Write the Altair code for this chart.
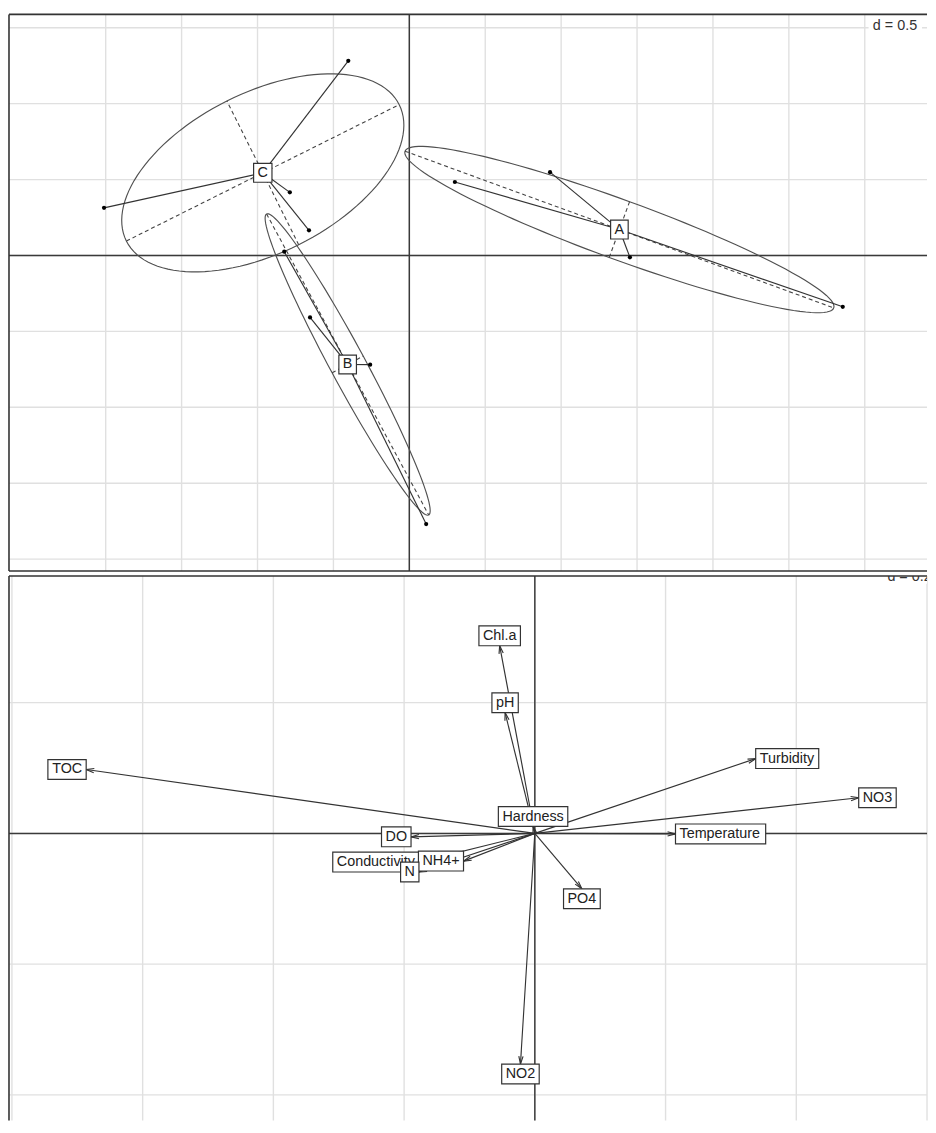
import math
import numpy as np
import pandas as pd
import altair as alt

# ---------------- top panel: site scores by class (d = 0.5) ----------------
SITE_GROUP = ["A", "A", "A", "A", "B", "B", "B", "B", "C", "C", "C", "C"]
SITE_AX1 = [0.927, 0.300, 1.453, 2.855, -0.824, -0.654, -0.258, 0.111, -0.402, -2.011, -0.787, -0.661]
SITE_AX2 = [0.549, 0.484, -0.012, -0.338, 0.025, -0.408, -0.719, -1.769, 1.282, 0.314, 0.416, 0.166]

TOP_GRID_X = [-2.0, -1.5, -1.0, -0.5, 0.0, 0.5, 1.0, 1.5, 2.0, 2.5, 3.0]
TOP_GRID_Y = [-2.0, -1.5, -1.0, -0.5, 0.0, 0.5, 1.0, 1.5]
TOP_X_DOMAIN = [-2.637, 3.410]
TOP_Y_DOMAIN = [-2.078, 1.588]
TOP_D_LABEL = "d = 0.5"

# ---------------- bottom panel: variable arrows (d = 0.2) ----------------
VARIABLES = ["Temperature", "pH", "Turbidity", "DO", "Conductivity", "Hardness", "TOC",
             "NO3", "NO2", "Chl.a", "PO4", "NH4+", "N"]
VAR_AX1 = [0.2152, -0.0455, 0.3379, -0.1894, -0.1773, -0.0027, -0.6864,
           0.4955, -0.0220, -0.0538, 0.0720, -0.1091, -0.1773]
VAR_AX2 = [-0.0008, 0.1848, 0.1144, -0.0053, -0.0439, 0.0106, 0.0977,
           0.0545, -0.3530, 0.2871, -0.0848, -0.0424, -0.0591]
LATE_LABELS = ["N"]  # drawn after the others (overlaps "Conductivity")

BOT_GRID_X = [-0.8, -0.6, -0.4, -0.2, 0.0, 0.2, 0.4, 0.6]
BOT_GRID_Y = [-0.4, -0.2, 0.0, 0.2]
BOT_X_DOMAIN = [-0.8045, 0.600]
BOT_Y_DOMAIN = [-0.4394, 0.3939]
BOT_D_LABEL = "d = 0.2"

# ---------------- styling ----------------
W = 927
TOP_H = 562
BOT_H = 550
FONT = "Liberation Sans"
FS = 14.5
BOX_H = 20
GRID = "#e0e0e0"
INK = "#222222"

AW = {" ": 278, "A": 667, "B": 667, "C": 722, "D": 722, "H": 722, "N": 722, "O": 778,
      "P": 667, "T": 611, "a": 556, "b": 556, "c": 500, "d": 556, "e": 556, "h": 556,
      "i": 222, "l": 222, "m": 833, "n": 556, "o": 556, "p": 556, "r": 333, "s": 500,
      "t": 278, "u": 556, "v": 500, "y": 500, ".": 278, "+": 584, "=": 584}


def tw(s):
    return sum(AW.get(c, 556) for c in s) * FS / 1000.0


SP = tw(" ")


def box_path(w, h, side):
    if side == "right":
        x0, y0 = 0.0, -h / 2
    elif side == "left":
        x0, y0 = -w, -h / 2
    elif side == "up":
        x0, y0 = -w / 2, -h
    elif side == "down":
        x0, y0 = -w / 2, 0.0
    else:
        x0, y0 = -w / 2, -h / 2
    x1, y1 = x0 + w, y0 + h
    return f"M{x0:.2f},{y0:.2f}L{x1:.2f},{y0:.2f}L{x1:.2f},{y1:.2f}L{x0:.2f},{y1:.2f}Z"


def side_of(x, y):  # placement rule of ade4 scatterutil.eti.circ
    if x > y and x > -y:
        return "right"
    if x > y and x <= -y:
        return "down"
    if x <= y and x <= -y:
        return "left"
    return "up"


def XQ(f, sc):
    return alt.X(f, type="quantitative", scale=sc, axis=None)


def YQ(f, sc):
    return alt.Y(f, type="quantitative", scale=sc, axis=None)


def grid_layers(gx, gy, xs, ys):
    v = alt.Chart(pd.DataFrame({"v": gx})).mark_rule(color=GRID, strokeWidth=1.4).encode(x=XQ("v", xs))
    h = alt.Chart(pd.DataFrame({"h": gy})).mark_rule(color=GRID, strokeWidth=1.4).encode(y=YQ("h", ys))
    z = pd.DataFrame({"z": [0.0]})
    zv = alt.Chart(z).mark_rule(color="#3a3a3a", strokeWidth=1.5).encode(x=XQ("z", xs))
    zh = alt.Chart(z).mark_rule(color="#3a3a3a", strokeWidth=1.5).encode(y=YQ("z", ys))
    return [v, h, zv, zh]


def border_layers(h, sides):
    one = pd.DataFrame({"a": [0]})
    out = []
    st = dict(color="#333", strokeWidth=1.6)
    if "top" in sides:
        out.append(alt.Chart(one).mark_rule(**st).encode(x=alt.value(0), x2=alt.value(W), y=alt.value(0)))
    if "left" in sides:
        out.append(alt.Chart(one).mark_rule(**st).encode(x=alt.value(0), y=alt.value(0), y2=alt.value(h)))
    if "bottom" in sides:
        out.append(alt.Chart(one).mark_rule(**st).encode(x=alt.value(0), x2=alt.value(W), y=alt.value(h)))
    return out


def label_layers(df, xs, ys):
    out = [alt.Chart(df).mark_point(filled=True, fill="white", stroke="#333", strokeWidth=1.2,
                                    size=4, opacity=1).encode(
        x=XQ("x", xs), y=YQ("y", ys), shape=alt.Shape("box:N", scale=None))]
    spec = {"right": ("left", SP, 0), "left": ("right", -SP, 0),
            "up": ("center", 0, -BOX_H / 2), "down": ("center", 0, BOX_H / 2),
            "center": ("center", 0, 0)}
    for side, (align, dx, dy) in spec.items():
        sub = df[df["side"] == side]
        if len(sub) == 0:
            continue
        out.append(alt.Chart(sub).mark_text(font=FONT, fontSize=FS, color=INK, align=align,
                                            baseline="middle", dx=dx, dy=dy).encode(
            x=XQ("x", xs), y=YQ("y", ys), text="label:N"))
    return out


# ================= top panel =================
xs_t = alt.Scale(domain=TOP_X_DOMAIN, nice=False, zero=False)
ys_t = alt.Scale(domain=TOP_Y_DOMAIN, nice=False, zero=False)

sites = pd.DataFrame({"group": SITE_GROUP, "x": SITE_AX1, "y": SITE_AX2})
ell_rows, axis_rows, star_rows, lab_rows = [], [], [], []
for g, sub in sites.groupby("group"):
    xv = sub["x"].to_numpy()
    yv = sub["y"].to_numpy()
    mx, my = xv.mean(), yv.mean()
    vx = ((xv - mx) ** 2).mean()
    vy = ((yv - my) ** 2).mean()
    cxy = ((xv - mx) * (yv - my)).mean()
    delta = math.sqrt((vx - vy) ** 2 + 4 * cxy ** 2)
    l1 = (vx + vy + delta) / 2
    l2 = vx + vy - l1
    l1 = math.sqrt(max(l1, 0))
    l2 = math.sqrt(max(l2, 0))
    a0, b0 = 1.0, (l1 * l1 - vx) / cxy
    nrm = math.hypot(a0, b0)
    a0, b0 = a0 / nrm, b0 / nrm
    k = 1.5
    c11, c12, c21, c22 = k * a0 * l1, -k * b0 * l2, k * b0 * l1, k * a0 * l2
    for i, t in enumerate(np.linspace(0, 2 * math.pi, 121)):
        ell_rows.append({"group": g, "o": i,
                         "x": mx + c11 * math.cos(t) + c12 * math.sin(t),
                         "y": my + c21 * math.cos(t) + c22 * math.sin(t)})
    axis_rows.append({"x": mx - c11, "y": my - c21, "x2": mx + c11, "y2": my + c21})
    axis_rows.append({"x": mx - c12, "y": my - c22, "x2": mx + c12, "y2": my + c22})
    for px, py in zip(xv, yv):
        star_rows.append({"x": mx, "y": my, "x2": px, "y2": py})
    lab_rows.append({"label": g, "x": mx, "y": my, "side": "center",
                     "box": box_path(tw(" " + g + " "), BOX_H - 1, "center")})

ell = pd.DataFrame(ell_rows)
axes_df = pd.DataFrame(axis_rows)
stars = pd.DataFrame(star_rows)
top_labels = pd.DataFrame(lab_rows)

top_layers = grid_layers(TOP_GRID_X, TOP_GRID_Y, xs_t, ys_t)
top_layers.append(alt.Chart(ell).mark_line(color="#505050", strokeWidth=1.15).encode(
    x=XQ("x", xs_t), y=YQ("y", ys_t), detail="group:N", order="o:Q"))
top_layers.append(alt.Chart(axes_df).mark_rule(color="#444", strokeWidth=1.1, strokeDash=[4, 3]).encode(
    x=XQ("x", xs_t), y=YQ("y", ys_t), x2="x2", y2="y2"))
top_layers.append(alt.Chart(stars).mark_rule(color="#333", strokeWidth=1.15).encode(
    x=XQ("x", xs_t), y=YQ("y", ys_t), x2="x2", y2="y2"))
top_layers.append(alt.Chart(sites).mark_circle(color="#000", size=18, opacity=1).encode(
    x=XQ("x", xs_t), y=YQ("y", ys_t)))
top_layers += label_layers(top_labels, xs_t, ys_t)
one = pd.DataFrame({"a": [0]})
top_layers.append(alt.Chart(one).mark_rect(color="white").encode(
    x=alt.value(868), x2=alt.value(922), y=alt.value(3), y2=alt.value(25)))
top_layers.append(alt.Chart(one).mark_text(font=FONT, fontSize=FS, color="#333", align="right",
                                           baseline="alphabetic").encode(
    x=alt.value(917), y=alt.value(16), text=alt.value(TOP_D_LABEL)))
top_layers += border_layers(TOP_H, ["top", "left", "bottom"])

top = alt.layer(*top_layers).properties(width=W, height=TOP_H)

# ================= bottom panel =================
xs_b = alt.Scale(domain=BOT_X_DOMAIN, nice=False, zero=False)
ys_b = alt.Scale(domain=BOT_Y_DOMAIN, nice=False, zero=False)

var = pd.DataFrame({"label": VARIABLES, "x": VAR_AX1, "y": VAR_AX2})
var["ox"] = 0.0
var["oy"] = 0.0
var["ang"] = [(math.degrees(math.atan2(-y, x)) % 360) for x, y in zip(VAR_AX1, VAR_AX2)]
var["side"] = [side_of(x, y) for x, y in zip(VAR_AX1, VAR_AX2)]
var["box"] = [box_path(tw(" " + l + " "), BOX_H, s) for l, s in zip(var["label"], var["side"])]
ARROW_HEAD = "M-8,-2.15L0,0L-8,2.15"

bot_layers = grid_layers(BOT_GRID_X, BOT_GRID_Y, xs_b, ys_b)
bot_layers.append(alt.Chart(var).mark_rule(color="#333", strokeWidth=1.15).encode(
    x=XQ("ox", xs_b), y=YQ("oy", ys_b), x2="x", y2="y"))
bot_layers.append(alt.Chart(var).mark_point(shape=ARROW_HEAD, filled=False, size=4, color="#333",
                                            strokeWidth=1.15, opacity=1).encode(
    x=XQ("x", xs_b), y=YQ("y", ys_b), angle=alt.Angle("ang:Q", scale=None)))
early = var[~var["label"].isin(LATE_LABELS)]
late = var[var["label"].isin(LATE_LABELS)]
bot_layers += label_layers(early, xs_b, ys_b)
bot_layers += label_layers(late, xs_b, ys_b)
bot_layers.append(alt.Chart(one).mark_rect(color="white", clip=True).encode(
    x=alt.value(883), x2=alt.value(W), y=alt.value(0), y2=alt.value(8)))
bot_layers.append(alt.Chart(one).mark_text(font=FONT, fontSize=FS, color="#333", align="left",
                                           baseline="alphabetic", clip=True).encode(
    x=alt.value(887), y=alt.value(5), text=alt.value(BOT_D_LABEL)))
bot_layers += border_layers(BOT_H, ["top", "left"])

bottom = alt.layer(*bot_layers).properties(width=W, height=BOT_H)

chart = alt.vconcat(top, bottom, spacing=3).properties(
    padding=0, background="white").configure_view(stroke=None)

chart.save("out.html", embed_options={"renderer": "svg", "actions": False})
